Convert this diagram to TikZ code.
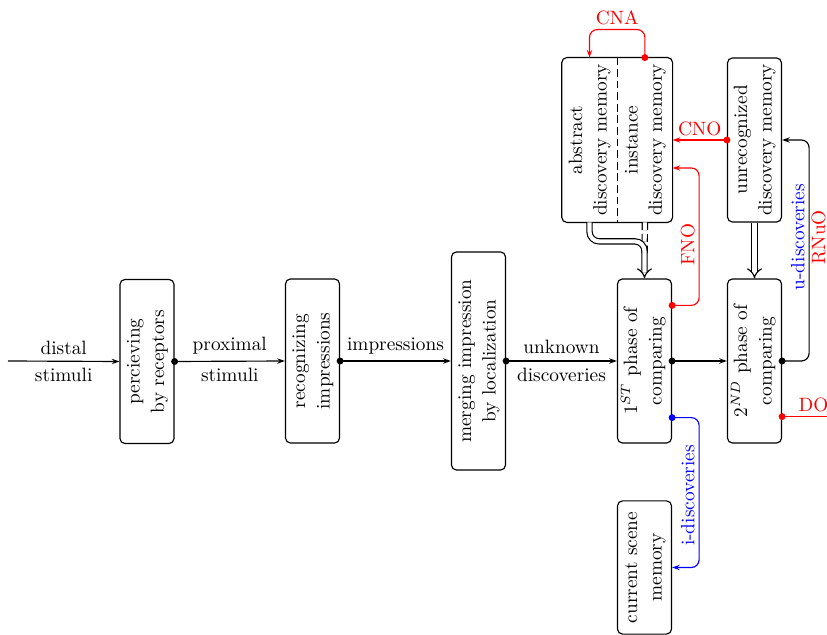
\documentclass[tikz,border=0pt]{standalone}
\usetikzlibrary{arrows.meta,calc}
\newcommand\rtext[1]{\rotatebox{90}{\renewcommand\arraystretch{1.05}\begin{tabular}{@{}c@{}}#1\end{tabular}}}
\begin{document}
\begin{tikzpicture}[x=0.518pt,y=-0.518pt,
  box/.style={draw, semithick, rounded corners=2.6pt, inner sep=1pt, minimum width=28pt, minimum height=85pt},
  part/.style={inner sep=1pt, minimum width=28.3pt, minimum height=85pt},
  conn/.style={semithick,-{Stealth[length=4pt,width=2.8pt,inset=1.4pt]}},
  dbl/.style={line width=0.6pt, double, double distance=2.1pt},
  dtip/.style={-{Implies[length=5.5pt,width=8pt]}},
  lbl/.style={rotate=90, inner sep=2pt}]
\useasboundingbox (0,0) rectangle (827,635);
% boxes
\node[box] (perc) at (147,361.5) {\rtext{percieving\\by receptors}};
\node[box] (rec) at (312.5,361) {\rtext{recognizing\\impressions}};
\node[box, minimum height=113pt] (merge) at (478.5,361) {\rtext{merging impression\\by localization}};
\node[box] (ph1) at (644.5,361) {\rtext{$1^{ST}$ phase of\\comparing}};
\node[box] (ph2) at (754.5,361) {\rtext{$2^{ND}$ phase of\\comparing}};
\node[part] (abs) at (589.5,140) {\rtext{abstract\\discovery memory}};
\node[part, anchor=west] (inst) at (abs.east) {\rtext{instance\\discovery memory}};
\draw[semithick, rounded corners=2.6pt] (abs.north west) rectangle (inst.south east);
\draw[semithick, dash pattern=on 4pt off 2pt] (abs.north east) -- (abs.south east);
\node[box] (unrec) at (754.5,140) {\rtext{unrecognized\\discovery memory}};
\node[box, minimum height=69pt] (csm) at (644.5,567.5) {\rtext{current scene\\memory}};
% main chain
\coordinate (in) at (8,361);
\draw[conn] (in) -- node[above]{distal} node[below]{stimuli} (perc.west);
\draw[conn] (perc.east) -- node[above]{proximal} node[below]{stimuli} (rec.west);
\draw[conn] (rec.east) -- node[above]{impressions} (merge.west);
\draw[conn] (merge.east) -- node[above]{unknown} node[below]{discoveries} (ph1.west);
\draw[conn] (ph1.east) -- (ph2.west);
\foreach \n in {perc,rec,merge,ph1} \fill (\n.east) circle (1.8pt);
% double arrows
\draw[dbl, dash pattern=on 4pt off 2pt] (inst.south) -- ($(ph1.north)+(0,-22)$);
\draw[dbl, rounded corners=5pt, dtip] (abs.south) |- ($(ph1.north)+(0,-37)$) -- (ph1.north);
\draw[dbl, dtip] (unrec.south) -- (ph2.north);
% u-discoveries
\fill (ph2.east) circle (1.8pt);
\draw[conn, rounded corners=4pt] (ph2.east) -- ++(27,0) |- node[pos=0.28, lbl, anchor=south, blue]{u-discoveries} node[pos=0.28, lbl, anchor=north, red, inner sep=1pt]{RNuO} (unrec.east);
% CNA
\draw[conn, red, rounded corners=4pt] (inst.north) -- ++(0,-28) -| node[pos=0.25, above, inner sep=2pt]{CNA} (abs.north);
\fill[red] (inst.north) circle (1.8pt);
% CNO
\draw[conn, red] (unrec.west) -- node[above, inner sep=2pt]{CNO} (inst.east |- unrec.west);
\fill[red] (unrec.west) circle (1.8pt);
% FNO
\coordinate (f1) at ($(ph1.north east)+(0,27)$);
\coordinate (f2) at ($(inst.east)+(0,28)$);
\draw[conn, red, rounded corners=4pt] (f1) -- ++(27,0) |- node[pos=0.22, lbl, anchor=south]{FNO} (f2);
\fill[red] (f1) circle (1.8pt);
% i-discoveries
\coordinate (i1) at ($(ph1.south east)+(0,-26)$);
\draw[conn, blue, rounded corners=4pt] (i1) -- ++(27,0) |- node[pos=0.26, lbl, anchor=south]{i-discoveries} (csm.east);
\fill[blue] (i1) circle (1.8pt);
% DO
\coordinate (d1) at ($(ph2.south east)+(0,-27)$);
\coordinate (doend) at ($(d1)+(46,0)$);
\draw[semithick, red] (d1) -- node[pos=0.68, above, inner sep=2pt]{DO} (doend);
\fill[red] (d1) circle (1.8pt);
\end{tikzpicture}
\end{document}
